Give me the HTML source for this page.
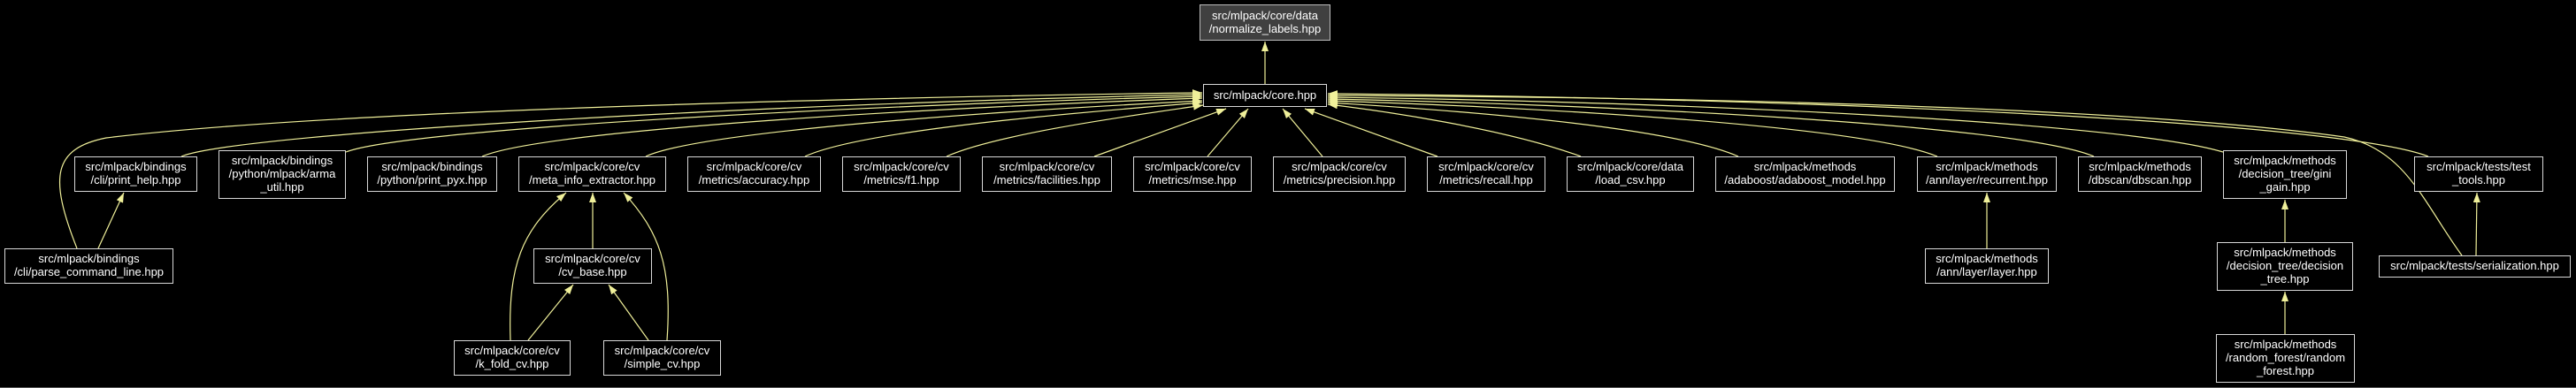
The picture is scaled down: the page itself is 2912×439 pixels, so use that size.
<!DOCTYPE html>
<html><head><meta charset="utf-8"><style>
html,body{margin:0;padding:0;background:#000;}
body{width:2912px;height:439px;position:relative;overflow:hidden;font-family:"Liberation Sans",Arial,sans-serif;}
.n{position:absolute;box-sizing:border-box;border:1px solid #d8d8d8;background:#000;color:#fff;font-size:13px;line-height:14.7px;display:flex;flex-direction:column;justify-content:center;align-items:center;text-align:center;white-space:nowrap;}
svg{position:absolute;left:0;top:0;}
</style></head><body>
<svg width="2912" height="439">
<defs><marker id="a" markerUnits="userSpaceOnUse" markerWidth="12" markerHeight="9" refX="11" refY="4" orient="auto"><path d="M0,0 L11,4 L0,8 z" fill="#f0f09a"/></marker></defs>
<g fill="none" stroke="#f0f09a" stroke-width="1.2" marker-end="url(#a)">
<path d="M1430,95 L1430,47"/>
<path d="M87,281 C55,200 60,168 120,156 C400,122 1100,108 1359,105"/>
<path d="M205,177 C270,150 900,116 1359,107"/>
<path d="M391,172 C460,145 1000,118 1359,109"/>
<path d="M545,177 C620,145 1100,120 1359,111"/>
<path d="M730,177 C800,145 1200,122 1359,114"/>
<path d="M910,177 C980,145 1250,125 1359,116"/>
<path d="M1070,177 C1130,150 1300,128 1360,119"/>
<path d="M1237,177 L1386,123"/>
<path d="M1365,177 L1411,123"/>
<path d="M1495,177 L1450,123"/>
<path d="M1625,177 L1475,123"/>
<path d="M1787,177 C1700,145 1560,125 1501,118"/>
<path d="M1965,177 C1880,140 1600,122 1501,116"/>
<path d="M2190,177 C2100,140 1700,120 1501,114"/>
<path d="M2367,177 C2280,140 1800,118 1501,112"/>
<path d="M2513,172 C2400,138 1900,115 1501,110"/>
<path d="M2783,289 C2740,230 2720,170 2650,155 C2400,120 1900,110 1501,108"/>
<path d="M2745,177 C2650,140 2100,112 1501,106"/>
<path d="M111,281 L140,218"/>
<path d="M577,385 C574,300 590,260 640,218"/>
<path d="M670,281 L670,218"/>
<path d="M754,385 C760,300 745,262 705,218"/>
<path d="M597,385 L648,322"/>
<path d="M733,385 L688,322"/>
<path d="M2246,281 L2246,218"/>
<path d="M2583,274 L2583,226"/>
<path d="M2583,378 L2583,330"/>
<path d="M2799,289 L2800,218"/>
</g>
<line x1="0" y1="438.5" x2="2912" y2="438.5" stroke="#555" stroke-width="1"/>
</svg>
<div class="n" style="left:1356px;top:5px;width:148px;height:41px;background:#404040;border-color:#bbb">src/mlpack/core/data<br>/normalize_labels.hpp</div>
<div class="n" style="left:1360px;top:95px;width:140px;height:26px">src/mlpack/core.hpp</div>
<div class="n" style="left:84px;top:177px;width:139px;height:40px">src/mlpack/bindings<br>/cli/print_help.hpp</div>
<div class="n" style="left:247px;top:170px;width:144px;height:55px">src/mlpack/bindings<br>/python/mlpack/arma<br>_util.hpp</div>
<div class="n" style="left:415px;top:177px;width:147px;height:40px">src/mlpack/bindings<br>/python/print_pyx.hpp</div>
<div class="n" style="left:586px;top:177px;width:167px;height:40px">src/mlpack/core/cv<br>/meta_info_extractor.hpp</div>
<div class="n" style="left:777px;top:177px;width:151px;height:40px">src/mlpack/core/cv<br>/metrics/accuracy.hpp</div>
<div class="n" style="left:952px;top:177px;width:134px;height:40px">src/mlpack/core/cv<br>/metrics/f1.hpp</div>
<div class="n" style="left:1110px;top:177px;width:147px;height:40px">src/mlpack/core/cv<br>/metrics/facilities.hpp</div>
<div class="n" style="left:1281px;top:177px;width:134px;height:40px">src/mlpack/core/cv<br>/metrics/mse.hpp</div>
<div class="n" style="left:1439px;top:177px;width:150px;height:40px">src/mlpack/core/cv<br>/metrics/precision.hpp</div>
<div class="n" style="left:1613px;top:177px;width:134px;height:40px">src/mlpack/core/cv<br>/metrics/recall.hpp</div>
<div class="n" style="left:1771px;top:177px;width:144px;height:40px">src/mlpack/core/data<br>/load_csv.hpp</div>
<div class="n" style="left:1939px;top:177px;width:203px;height:40px">src/mlpack/methods<br>/adaboost/adaboost_model.hpp</div>
<div class="n" style="left:2167px;top:177px;width:158px;height:40px">src/mlpack/methods<br>/ann/layer/recurrent.hpp</div>
<div class="n" style="left:2349px;top:177px;width:140px;height:40px">src/mlpack/methods<br>/dbscan/dbscan.hpp</div>
<div class="n" style="left:2513px;top:170px;width:140px;height:55px">src/mlpack/methods<br>/decision_tree/gini<br>_gain.hpp</div>
<div class="n" style="left:2729px;top:177px;width:146px;height:40px">src/mlpack/tests/test<br>_tools.hpp</div>
<div class="n" style="left:5px;top:281px;width:191px;height:40px">src/mlpack/bindings<br>/cli/parse_command_line.hpp</div>
<div class="n" style="left:603px;top:281px;width:134px;height:40px">src/mlpack/core/cv<br>/cv_base.hpp</div>
<div class="n" style="left:2176px;top:281px;width:140px;height:40px">src/mlpack/methods<br>/ann/layer/layer.hpp</div>
<div class="n" style="left:2506px;top:274px;width:154px;height:55px">src/mlpack/methods<br>/decision_tree/decision<br>_tree.hpp</div>
<div class="n" style="left:2689px;top:289px;width:217px;height:25px">src/mlpack/tests/serialization.hpp</div>
<div class="n" style="left:513px;top:385px;width:132px;height:40px">src/mlpack/core/cv<br>/k_fold_cv.hpp</div>
<div class="n" style="left:682px;top:385px;width:133px;height:40px">src/mlpack/core/cv<br>/simple_cv.hpp</div>
<div class="n" style="left:2505px;top:378px;width:157px;height:55px">src/mlpack/methods<br>/random_forest/random<br>_forest.hpp</div>
</body></html>
